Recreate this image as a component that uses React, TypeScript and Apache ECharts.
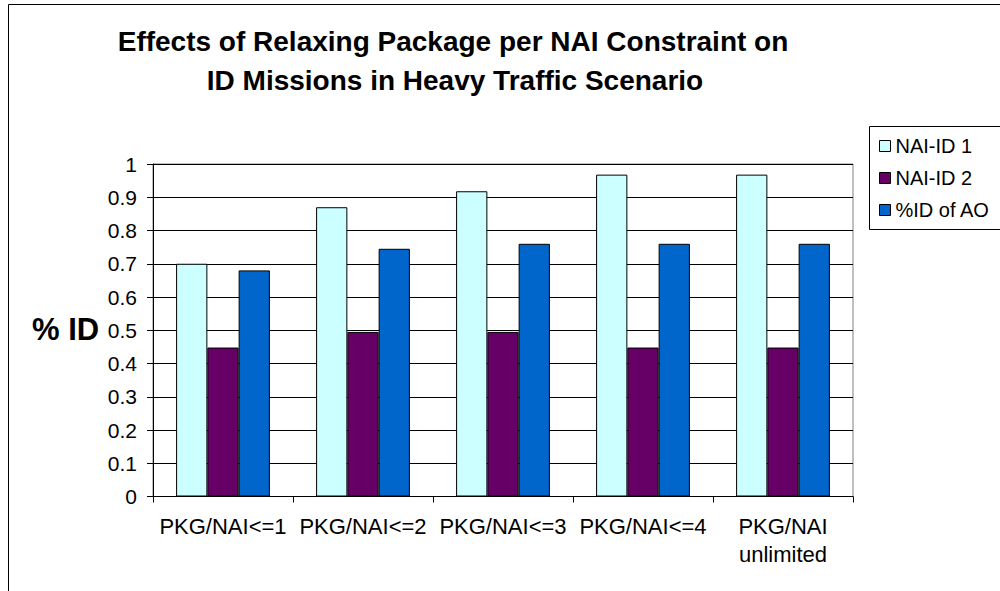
import React, { useEffect, useRef } from "react";
import * as echarts from "echarts";

const categories = ["PKG/NAI<=1", "PKG/NAI<=2", "PKG/NAI<=3", "PKG/NAI<=4", "PKG/NAI\nunlimited"];
const seriesNames = ["NAI-ID 1", "NAI-ID 2", "%ID of AO"];
const naiId1 = [0.7, 0.87, 0.918, 0.968, 0.968];
const naiId2 = [0.448, 0.495, 0.495, 0.448, 0.448];
const idOfAO = [0.68, 0.745, 0.76, 0.76, 0.76];
const colors = ["#CCFFFF", "#660066", "#0066CC"];
const yTicks = { min: 0, max: 1, interval: 0.1 };
const titleLines = ["Effects of Relaxing Package per NAI Constraint on", "ID Missions in Heavy Traffic Scenario"];
const yAxisTitle = "% ID";

const FONT = "'Liberation Sans', Arial, sans-serif";

export default function App() {
  const ref = useRef<HTMLDivElement>(null);
  useEffect(() => {
    if (!ref.current) return;
    const chart = echarts.init(ref.current, undefined, { renderer: "svg" });
    const values = [naiId1, naiId2, idOfAO];
    chart.setOption({
      animation: false,
      backgroundColor: "#fff",
      textStyle: { fontFamily: FONT },
      grid: {
        left: 153,
        right: 147,
        top: 164,
        bottom: 94.5,
        show: true,
        borderColor: "#808080",
        borderWidth: 1,
      },
      legend: {
        orient: "vertical",
        left: 874,
        top: 131,
        itemWidth: 11,
        itemHeight: 11,
        itemGap: 12,
        icon: "rect",
        itemStyle: { borderColor: "#000", borderWidth: 1 },
        textStyle: { fontSize: 20, color: "#000", fontFamily: FONT, padding: [0, 0, 0, 0] },
        data: seriesNames,
      },
      xAxis: {
        type: "category",
        data: categories,
        axisLine: { lineStyle: { color: "#000", width: 1 } },
        axisTick: { show: true, length: 6, lineStyle: { color: "#000" } },
        axisLabel: { color: "#000", fontSize: 22, lineHeight: 28, margin: 16, interval: 0, fontFamily: FONT },
        splitLine: { show: false },
      },
      yAxis: {
        type: "value",
        min: yTicks.min,
        max: yTicks.max,
        interval: yTicks.interval,
        axisLine: { show: true, lineStyle: { color: "#000", width: 1 } },
        axisTick: { show: true, length: 6, lineStyle: { color: "#000" } },
        axisLabel: { color: "#000", fontSize: 21, margin: 16, fontFamily: FONT },
        splitLine: { show: true, lineStyle: { color: "#000", width: 1 } },
      },
      series: seriesNames.map((name, i) => ({
        name,
        type: "bar",
        data: values[i],
        barGap: "0%",
        barCategoryGap: "33%",
        itemStyle: { color: colors[i], borderColor: "#000", borderWidth: 1 },
      })),
      graphic: [
        {
          type: "rect",
          shape: { x: 8.5, y: 4.5, width: 1200, height: 800 },
          style: { fill: "none", stroke: "#000", lineWidth: 1 },
          silent: true,
        },
        {
          type: "rect",
          shape: { x: 869.5, y: 126.5, width: 200, height: 103 },
          style: { fill: "none", stroke: "#000", lineWidth: 1 },
          silent: true,
        },
        {
          type: "text",
          x: 453,
          y: 41,
          style: { text: titleLines[0], font: `bold 28px ${FONT}`, fill: "#000", textAlign: "center", textVerticalAlign: "middle" },
        },
        {
          type: "text",
          x: 455,
          y: 80,
          style: { text: titleLines[1], font: `bold 28px ${FONT}`, fill: "#000", textAlign: "center", textVerticalAlign: "middle" },
        },
        {
          type: "text",
          x: 32,
          y: 329,
          style: { text: yAxisTitle, font: `bold 31px ${FONT}`, fill: "#000", textAlign: "left", textVerticalAlign: "middle" },
        },
      ],
    });
    return () => chart.dispose();
  }, []);
  return <div ref={ref} style={{ width: 1000, height: 591, position: "absolute", left: 0, top: 0 }} />;
}
